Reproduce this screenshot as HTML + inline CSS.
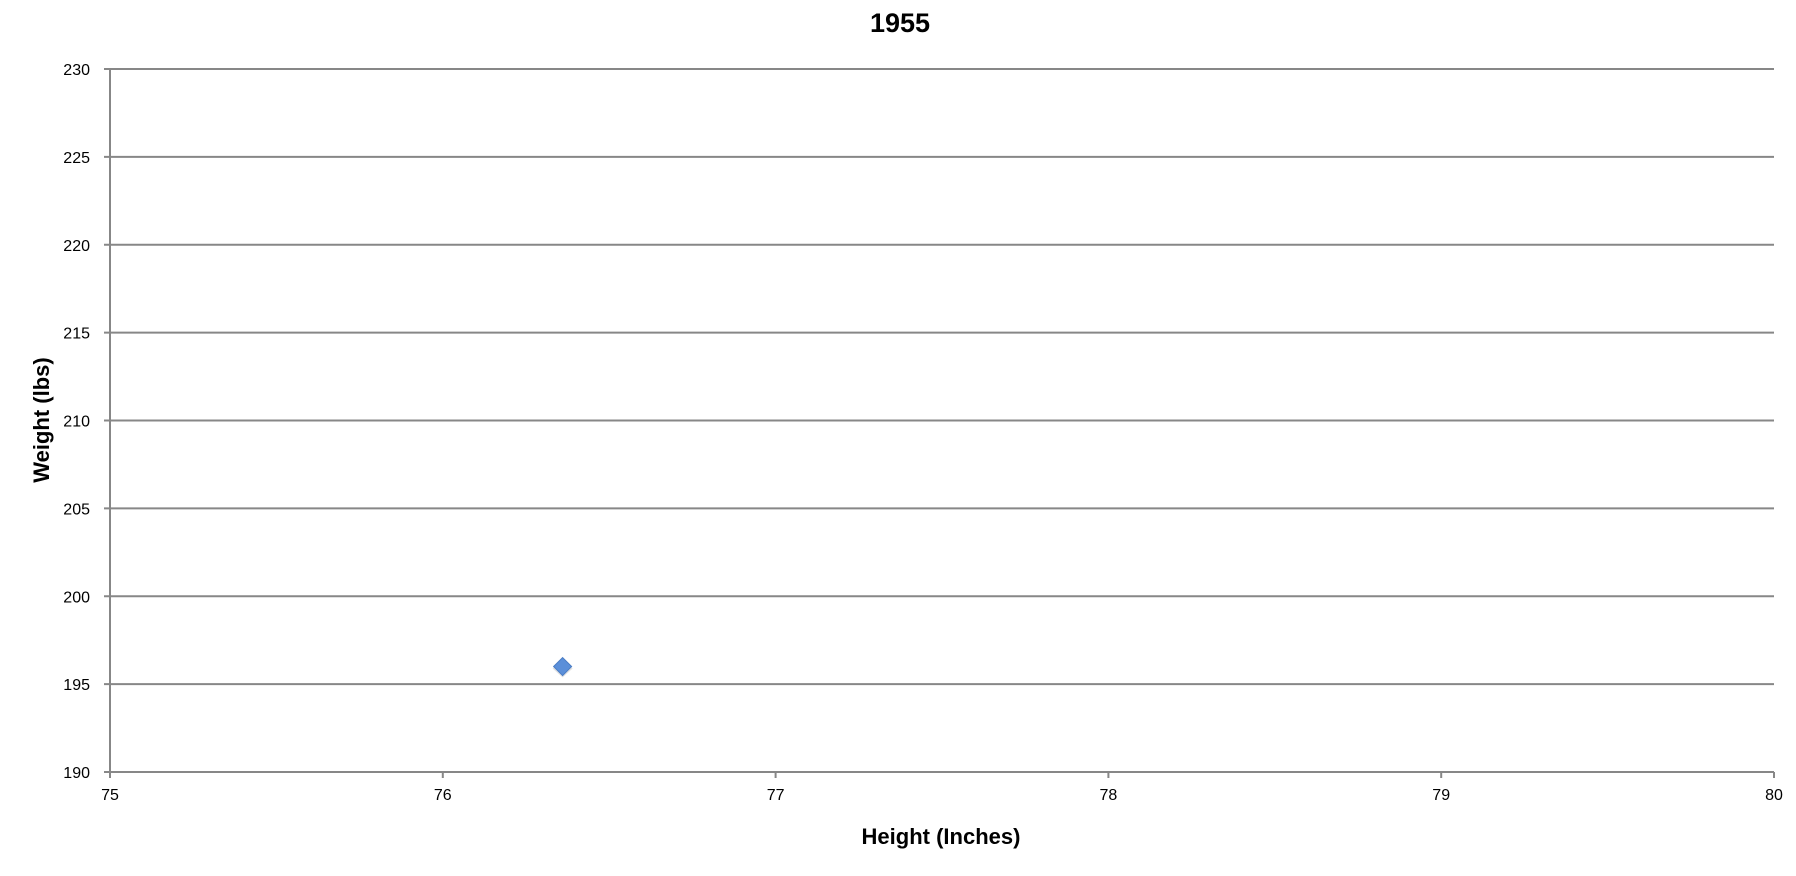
<!DOCTYPE html>
<html><head><meta charset="utf-8"><style>
body{margin:0;background:#fff;}
svg text{font-family:"Liberation Sans",sans-serif;fill:#000;}
</style></head><body>
<svg id="chart" width="1796" height="871" xmlns="http://www.w3.org/2000/svg">
<text x="900" y="32" text-anchor="middle" font-size="27" font-weight="bold">1955</text>
<text x="941" y="844" text-anchor="middle" font-size="22" font-weight="bold">Height (Inches)</text>
<text transform="translate(49,420) rotate(-90)" text-anchor="middle" font-size="22" font-weight="bold">Weight (lbs)</text>
<g id="grid"></g>
<g id="axes"></g>
<g id="marks"></g>
</svg>
<script>
const xTicks=[75,76,77,78,79,80];
const yTicks=[190,195,200,205,210,215,220,225,230];
const xValues=[76.36];
const yValues=[196];
const L=110,R=1774,T=69,B=772;
const xMin=75,xMax=80,yMin=190,yMax=230;
function sx(v){return L+(v-xMin)/(xMax-xMin)*(R-L);}
function sy(v){return B-(v-yMin)/(yMax-yMin)*(B-T);}
const NS="http://www.w3.org/2000/svg";
function mk(t,a,p){const e=document.createElementNS(NS,t);for(const k in a)e.setAttribute(k,a[k]);p.appendChild(e);return e;}
const grid=document.getElementById('grid'),axes=document.getElementById('axes'),marks=document.getElementById('marks');
yTicks.forEach(v=>{
  const y=sy(v);
  const g=mk('line',{x1:L-6,x2:R,y1:y,y2:y,stroke:'#878787','stroke-width':2},grid);
  
  
  const t=mk('text',{x:L-20,y:y+6,'text-anchor':'end','font-size':16},axes);
  t.textContent=v;
  
  
});
const ya=mk('line',{x1:L,x2:L,y1:T,y2:B,stroke:'#878787','stroke-width':2},axes);


xTicks.forEach(v=>{
  const x=sx(v);
  const k=mk('line',{x1:x,x2:x,y1:B,y2:B+6,stroke:'#878787','stroke-width':2},axes);
  
  
  const t=mk('text',{x:x,y:B+28,'text-anchor':'middle','font-size':16},axes);
  t.textContent=v;
  
  
});
xValues.forEach((xv,i)=>{
  const x=sx(xv),y=sy(yValues[i]);
  const s=mk('polygon',{points:`${x},${y+11} ${x+10},${y+2} ${x},${y-7} ${x-10},${y+2}`,fill:'#cfcfcf',opacity:0.6},marks);
  
  
  const p=mk('polygon',{points:`${x},${y-9} ${x+9},${y} ${x},${y+9} ${x-9},${y}`,fill:'#5b8fd9',stroke:'#4a7cc4','stroke-width':1},marks);
  
  
});
</script>
</body></html>
